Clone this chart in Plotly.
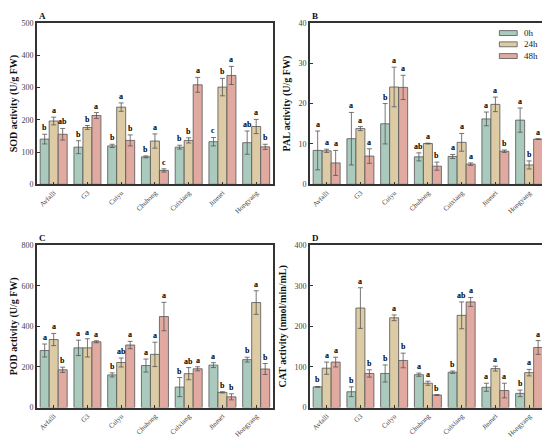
import plotly.graph_objects as go

# cultivars on the x axis
cultivars = ["Avfalli", "G3", "Cuiyu", "Chuhong", "Cuixiang", "Jinmei", "Hongyang"]
times = ["0h", "24h", "48h"]
colours = ["#a9cabc", "#dccba4", "#e0aaa1"]

# SOD activity (U/g FW)
sod_0h = [140, 115, 119, 85, 115, 132, 129]
sod_24h = [196, 176, 239, 134, 136, 301, 179]
sod_48h = [155, 213, 136, 43, 308, 337, 116]
sod_err_0h = [15, 20, 5, 3, 6, 13, 36]
sod_err_24h = [12, 6, 13, 22, 8, 27, 22]
sod_err_48h = [18, 9, 17, 5, 23, 28, 8]
sod_let_0h = ["b", "b", "b", "b", "b", "c", "ab"]
sod_let_24h = ["a", "b", "a", "a", "b", "b", "a"]
sod_let_48h = ["ab", "a", "b", "c", "a", "a", "b"]

# PAL activity (U/g FW)
pal_0h = [8.4, 11.3, 15.0, 6.8, 6.9, 16.2, 15.9]
pal_24h = [8.3, 13.8, 24.1, 10.1, 10.4, 19.8, 4.8]
pal_48h = [5.3, 7.0, 24.0, 4.5, 5.0, 8.2, 11.2]
pal_err_0h = [4.8, 6.5, 5.0, 1.0, 0.5, 1.7, 3.0]
pal_err_24h = [0.4, 0.5, 4.9, 0.1, 2.2, 1.8, 1.0]
pal_err_48h = [3.1, 1.8, 3.0, 1.0, 0.3, 0.3, 0.1]
pal_let_0h = ["a", "a", "b", "ab", "a", "a", "a"]
pal_let_24h = ["a", "a", "a", "a", "a", "a", "b"]
pal_let_48h = ["a", "a", "a", "b", "a", "b", "a"]

# POD activity (U/g FW)
pod_0h = [281, 294, 161, 207, 101, 209, 236]
pod_24h = [335, 294, 222, 262, 167, 75, 517]
pod_48h = [186, 324, 308, 448, 191, 53, 190]
pod_err_0h = [32, 38, 10, 32, 47, 12, 12]
pod_err_24h = [30, 45, 22, 60, 30, 3, 58]
pod_err_48h = [13, 5, 18, 70, 10, 15, 27]
pod_let_0h = ["a", "a", "b", "a", "b", "a", "b"]
pod_let_24h = ["a", "a", "ab", "a", "ab", "b", "a"]
pod_let_48h = ["b", "a", "a", "a", "a", "b", "b"]

# CAT activity (nmol/min/mL)
cat_0h = [51, 39, 84, 81, 87, 50, 35]
cat_24h = [97, 245, 221, 60, 227, 96, 86]
cat_48h = [112, 84, 116, 31, 260, 42, 148]
cat_err_0h = [1, 12, 21, 4, 3, 10, 8]
cat_err_24h = [15, 50, 7, 5, 33, 6, 8]
cat_err_48h = [12, 9, 18, 1, 11, 18, 17]
cat_let_0h = ["b", "b", "b", "a", "b", "a", "b"]
cat_let_24h = ["a", "a", "a", "a", "ab", "a", "a"]
cat_let_48h = ["a", "b", "b", "b", "a", "a", "a"]

FONT = "Liberation Serif"
AXIS_COL = "#333333"

# figure size (the page body keeps its 8px margin)
W, H = 540, 433
OFF = 8


# px_x(p) / px_y(p)
#   turn a pixel position on the page into a paper coordinate of the figure.
def px_x(p):
    return (p - OFF) / W


def px_y(p):
    return 1 - (p - OFF) / H


panels = [
    {"tag": "A", "title": "SOD activity (U/g FW)", "ymax": 500, "dtick": 100,
     "vals": [sod_0h, sod_24h, sod_48h], "errs": [sod_err_0h, sod_err_24h, sod_err_48h],
     "lets": [sod_let_0h, sod_let_24h, sod_let_48h],
     "xd": [px_x(33), px_x(271)], "yd": [px_y(184), px_y(19)]},
    {"tag": "B", "title": "PAL activity (U/g FW)", "ymax": 40, "dtick": 10,
     "vals": [pal_0h, pal_24h, pal_48h], "errs": [pal_err_0h, pal_err_24h, pal_err_48h],
     "lets": [pal_let_0h, pal_let_24h, pal_let_48h],
     "xd": [px_x(308), px_x(546)], "yd": [px_y(184), px_y(19)]},
    {"tag": "C", "title": "POD activity (U/g FW)", "ymax": 800, "dtick": 200,
     "vals": [pod_0h, pod_24h, pod_48h], "errs": [pod_err_0h, pod_err_24h, pod_err_48h],
     "lets": [pod_let_0h, pod_let_24h, pod_let_48h],
     "xd": [px_x(33), px_x(271)], "yd": [px_y(412), px_y(246)]},
    {"tag": "D", "title": "CAT activity (nmol/min/mL)", "ymax": 400, "dtick": 100,
     "vals": [cat_0h, cat_24h, cat_48h], "errs": [cat_err_0h, cat_err_24h, cat_err_48h],
     "lets": [cat_let_0h, cat_let_24h, cat_let_48h],
     "xd": [px_x(308), px_x(546)], "yd": [px_y(412), px_y(246)]},
]

BARGAP = 0.2
bar_w = (1 - BARGAP) / 3
idx = list(range(len(cultivars)))

fig = go.Figure()
annotations = []
shapes = []
layout = {}

for p_i, p in enumerate(panels):
    n = "" if p_i == 0 else str(p_i + 1)
    xa, ya = "x" + n, "y" + n
    for t_i in range(3):
        fig.add_trace(go.Bar(
            x=idx, y=p["vals"][t_i], name=times[t_i],
            xaxis=xa, yaxis=ya,
            marker=dict(color=colours[t_i], line=dict(color="#555555", width=0.8)),
            error_y=dict(type="data", array=p["errs"][t_i], color="#555555",
                         thickness=0.8, width=2.5),
            showlegend=False,
        ))
        # significance letters above the error bars
        for c_i in idx:
            annotations.append(dict(
                x=c_i + (t_i - 1) * bar_w, y=p["vals"][t_i][c_i] + p["errs"][t_i][c_i],
                xref=xa, yref=ya, text="<b>%s</b>" % p["lets"][t_i][c_i],
                showarrow=False, yanchor="bottom", yshift=0,
                font=dict(family=FONT, size=8, color="#000000"),
            ))
    # panel letter, top left above the frame
    annotations.append(dict(
        x=p["xd"][0] + 0.002, y=p["yd"][1] + 13 / H, xref="paper", yref="paper",
        text="<b>%s</b>" % p["tag"], showarrow=False, xanchor="left", yanchor="top",
        font=dict(family=FONT, size=9, color="#111111"), borderpad=0,
    ))
    layout["xaxis" + n] = dict(
        domain=p["xd"], anchor=ya, range=[-0.5, len(cultivars) - 0.5],
        tickmode="array", tickvals=idx, ticktext=cultivars, tickangle=-45,
        ticks="inside", ticklen=3, tickcolor=AXIS_COL,
        showline=True, linecolor=AXIS_COL, linewidth=1.5, mirror=True,
        showgrid=False, zeroline=False,
        tickfont=dict(family=FONT, size=7, color="#444444"),
    )
    layout["yaxis" + n] = dict(
        domain=p["yd"], anchor=xa, range=[0, p["ymax"]], dtick=p["dtick"],
        ticks="inside", ticklen=3, tickcolor=AXIS_COL,
        showline=True, linecolor=AXIS_COL, linewidth=1.5, mirror=True,
        showgrid=False, zeroline=False,
        tickfont=dict(family=FONT, size=8, color="#444444"),
        title=dict(text="<b>%s</b>" % p["title"], standoff=6,
                   font=dict(family=FONT, size=10, color="#111111")),
    )

# hand-made legend in panel B with wide swatches
legend_rows = [29.5, 41, 53]
for t_i, row in enumerate(legend_rows):
    shapes.append(dict(
        type="rect", xref="paper", yref="paper",
        x0=px_x(499), x1=px_x(517), y0=px_y(row + 2.5), y1=px_y(row - 2.5),
        fillcolor=colours[t_i], line=dict(color="#555555", width=0.8),
    ))
    annotations.append(dict(
        x=px_x(522), y=px_y(row), xref="paper", yref="paper", text=times[t_i],
        showarrow=False, xanchor="left", yanchor="middle",
        font=dict(family=FONT, size=9, color="#222222"),
    ))

fig.update_layout(
    width=W, height=H,
    margin=dict(l=0, r=0, t=0, b=0),
    paper_bgcolor="white", plot_bgcolor="white",
    barmode="group", bargap=BARGAP, bargroupgap=0.0,
    annotations=annotations, shapes=shapes,
    showlegend=False,
    **layout,
)

fig.write_html("out.html")
